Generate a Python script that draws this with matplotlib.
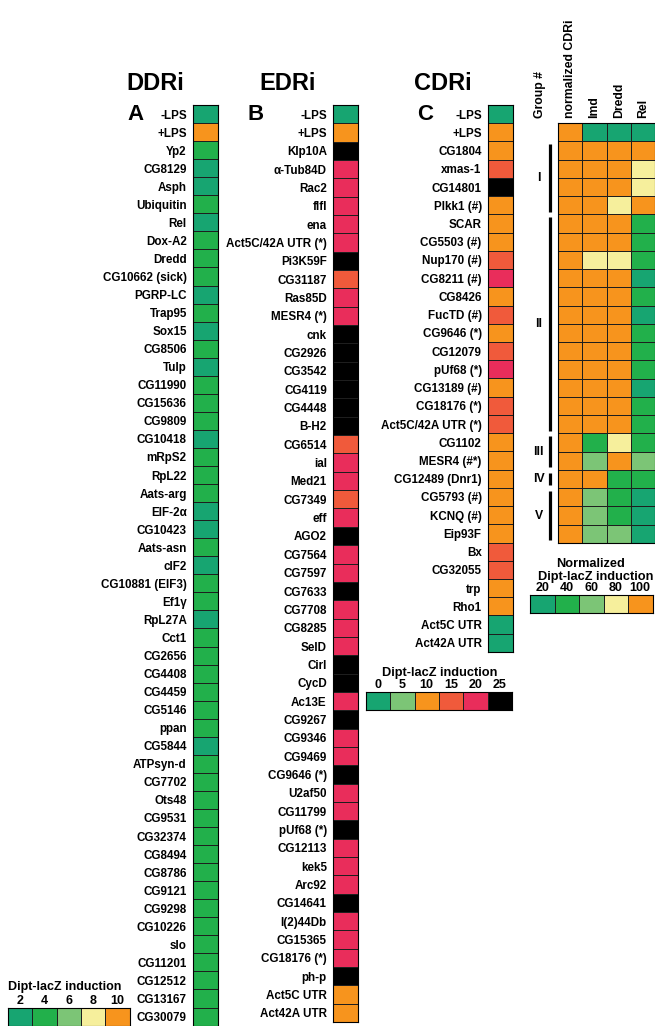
import numpy as np
import matplotlib
matplotlib.use('Agg')
import matplotlib.pyplot as plt
from matplotlib.colors import ListedColormap, BoundaryNorm

# colours shared by all scales
TEAL = '#17a571'
GREEN = '#22b04b'
LGREEN = '#7cc576'
YELLOW = '#f6ef9c'
ORANGE = '#f7941d'
RED = '#f05a3b'
CRIMSON = '#e92d5b'
BLACK = '#000000'

# ---- panel A: DDRi ----
ddri_genes = ['-LPS', '+LPS', 'Yp2', 'CG8129', 'Asph', 'Ubiquitin', 'Rel', 'Dox-A2', 'Dredd',
              'CG10662 (sick)', 'PGRP-LC', 'Trap95', 'Sox15', 'CG8506', 'Tulp', 'CG11990',
              'CG15636', 'CG9809', 'CG10418', 'mRpS2', 'RpL22', 'Aats-arg', 'EIF-2α', 'CG10423',
              'Aats-asn', 'cIF2', 'CG10881 (EIF3)', 'Ef1γ', 'RpL27A', 'Cct1', 'CG2656', 'CG4408',
              'CG4459', 'CG5146', 'ppan', 'CG5844', 'ATPsyn-d', 'CG7702', 'Ots48', 'CG9531',
              'CG32374', 'CG8494', 'CG8786', 'CG9121', 'CG9298', 'CG10226', 'slo', 'CG11201',
              'CG12512', 'CG13167', 'CG30079']
ddri_values = [2.0, 10.0, 3.4, 2.8, 2.7, 3.3, 2.6, 3.5, 3.4,
               3.3, 2.7, 3.5, 2.8, 3.4, 2.8, 3.4,
               3.6, 3.3, 2.8, 3.5, 3.4, 3.3, 2.7, 2.8,
               3.4, 2.7, 3.5, 3.3, 2.8, 3.5, 3.6, 3.4,
               3.5, 3.4, 3.6, 2.6, 3.4, 3.5, 3.6, 3.4,
               3.3, 3.5, 3.4, 3.6, 3.5, 3.4, 3.3, 3.5,
               3.4, 3.6, 3.5]
ddri_ticks = ['2', '4', '6', '8', '10']
ddri_bounds = [0, 3, 5, 7, 9, 100]
ddri_colors = [TEAL, GREEN, LGREEN, YELLOW, ORANGE]

# ---- panel B: EDRi ----
edri_genes = ['-LPS', '+LPS', 'Klp10A', 'α-Tub84D', 'Rac2', 'flfl', 'ena', 'Act5C/42A UTR (*)',
              'Pi3K59F', 'CG31187', 'Ras85D', 'MESR4 (*)', 'cnk', 'CG2926', 'CG3542', 'CG4119',
              'CG4448', 'B-H2', 'CG6514', 'ial', 'Med21', 'CG7349', 'eff', 'AGO2', 'CG7564',
              'CG7597', 'CG7633', 'CG7708', 'CG8285', 'SelD', 'Cirl', 'CycD', 'Ac13E', 'CG9267',
              'CG9346', 'CG9469', 'CG9646 (*)', 'U2af50', 'CG11799', 'pUf68 (*)', 'CG12113',
              'kek5', 'Arc92', 'CG14641', 'l(2)44Db', 'CG15365', 'CG18176 (*)', 'ph-p',
              'Act5C UTR', 'Act42A UTR']
edri_values = [1.5, 11, 28, 21, 20, 21, 20, 21,
               26, 16, 20, 21, 30, 29, 28, 27,
               27, 26, 16, 20, 21, 16, 20, 26, 21,
               20, 25, 21, 20, 21, 27, 26, 20, 26,
               21, 20, 25, 21, 20, 26, 20,
               21, 20, 25, 21, 20, 21, 26,
               11, 11]

# ---- panel C: CDRi ----
cdri_genes = ['-LPS', '+LPS', 'CG1804', 'xmas-1', 'CG14801', 'Plkk1 (#)', 'SCAR', 'CG5503 (#)',
              'Nup170 (#)', 'CG8211 (#)', 'CG8426', 'FucTD (#)', 'CG9646 (*)', 'CG12079',
              'pUf68 (*)', 'CG13189 (#)', 'CG18176 (*)', 'Act5C/42A UTR (*)', 'CG1102',
              'MESR4 (#*)', 'CG12489 (Dnr1)', 'CG5793 (#)', 'KCNQ (#)', 'Eip93F', 'Bx',
              'CG32055', 'trp', 'Rho1', 'Act5C UTR', 'Act42A UTR']
cdri_values = [1.5, 11, 10.5, 15, 26, 11, 10, 11,
               14, 19, 11, 14, 11, 14,
               19, 11, 14, 14, 11,
               10, 11, 10, 11, 11, 14,
               14, 11, 11, 1.5, 1.5]
ind_ticks = ['0', '5', '10', '15', '20', '25']
ind_bounds = [-100, 2.5, 7.5, 12.5, 17.5, 22.5, 1000]
ind_colors = [TEAL, LGREEN, ORANGE, RED, CRIMSON, BLACK]

# ---- normalized heat map (rows = +LPS .. Eip93F of panel C) ----
heat_columns = ['normalized CDRi', 'Imd', 'Dredd', 'Rel']
norm_cdri = [100] * 23
imd = [15, 100, 95, 96, 94, 98, 97, 78, 95, 96, 98, 96, 99, 97, 95, 96, 98,
       40, 58, 92, 55, 57, 60]
dredd = [18, 100, 97, 98, 82, 96, 95, 80, 93, 94, 97, 95, 97, 98, 96, 94, 95,
         76, 93, 38, 40, 37, 62]
rel = [20, 100, 78, 80, 95, 42, 38, 40, 25, 35, 27, 38, 36, 40, 28, 37, 39,
       42, 60, 36, 24, 22, 26]
groups = ['I', 'II', 'III', 'IV', 'V']
group_first = [1, 5, 17, 19, 20]
group_last = [4, 16, 18, 19, 22]
norm_ticks = ['20', '40', '60', '80', '100']
norm_bounds = [0, 30, 50, 70, 90, 1000]
norm_colors = [TEAL, GREEN, LGREEN, YELLOW, ORANGE]

plt.rcParams['font.family'] = ['Liberation Sans', 'DejaVu Sans']
plt.rcParams['font.weight'] = 'bold'

W, H = 655, 1026
fig = plt.figure(figsize=(W / 100, H / 100), dpi=100)


def px_ax(x0, y0, x1, y1):
    return fig.add_axes([x0 / W, 1 - y1 / H, (x1 - x0) / W, (y1 - y0) / H])


def column(x0, y0, row_h, genes, values, colors, bounds, width=24.5):
    n = len(genes)
    ax = px_ax(x0, y0, x0 + width, y0 + n * row_h)
    cmap = ListedColormap(colors)
    norm = BoundaryNorm(bounds, cmap.N)
    ax.pcolormesh(np.array(values, dtype=float).reshape(-1, 1), cmap=cmap, norm=norm,
                  edgecolors='#1e1e1e', linewidth=0.7)
    ax.set_xlim(0, 1)
    ax.set_ylim(n, 0)
    ax.set_xticks([])
    ax.set_yticks(np.arange(n) + 0.5)
    ax.set_yticklabels(genes, fontsize=8.4, fontweight='bold')
    ax.tick_params(axis='y', length=0, pad=4.5)
    for s in ax.spines.values():
        s.set_linewidth(0.8)
    return ax


def legend(x0, y0, ticks, colors, box_w=24.3, box_h=18):
    n = len(colors)
    ax = px_ax(x0, y0, x0 + n * box_w, y0 + box_h)
    ax.pcolormesh(np.arange(n).reshape(1, -1), cmap=ListedColormap(colors),
                  edgecolors='#1e1e1e', linewidth=0.7)
    ax.set_xlim(0, n)
    ax.set_ylim(0, 1)
    ax.set_yticks([])
    ax.xaxis.tick_top()
    ax.set_xticks(np.arange(n) + 0.5)
    ax.set_xticklabels(ticks, fontsize=9, fontweight='bold')
    ax.tick_params(axis='x', length=0, pad=1)
    return ax


# panels
column(193, 105, 18.05, ddri_genes, ddri_values, ddri_colors, ddri_bounds)
column(333, 105, 18.34, edri_genes, edri_values, ind_colors, ind_bounds)
column(488, 105, 18.23, cdri_genes, cdri_values, ind_colors, ind_bounds)

for x, title, letter, lx in [(155, 'DDRi', 'A', 135), (288, 'EDRi', 'B', 256), (443, 'CDRi', 'C', 425)]:
    fig.text(x / W, 1 - 83 / H, title, fontsize=17, fontweight='bold', ha='center', va='center')
    fig.text(lx / W, 1 - 115 / H, letter, fontsize=16, fontweight='bold', ha='center', va='center')

# heat map
heat = np.column_stack([norm_cdri, imd, dredd, rel])
nr = heat.shape[0]
hx0, hy0, row_h, col_w = 558, 123, 18.26, 24.3
hax = px_ax(hx0, hy0, hx0 + 4 * col_w, hy0 + nr * row_h)
hcmap = ListedColormap(norm_colors)
hax.pcolormesh(heat, cmap=hcmap, norm=BoundaryNorm(norm_bounds, hcmap.N),
               edgecolors='#1e1e1e', linewidth=0.7)
hax.set_xlim(0, 4)
hax.set_ylim(nr, 0)
hax.set_xticks([])
hax.set_yticks([])
for s in hax.spines.values():
    s.set_linewidth(0.8)
for i, name in enumerate(heat_columns):
    hax.text(i + 0.5, -0.3, name, rotation=90, ha='center', va='bottom',
             fontsize=8.8, fontweight='bold')
hax.text(-0.75, -0.3, 'Group #', rotation=90, ha='center', va='bottom',
         fontsize=8.8, fontweight='bold')
for g, a, b in zip(groups, group_first, group_last):
    hax.plot([-0.33, -0.33], [a + 0.15, b + 0.85], color='black', lw=2.3,
             clip_on=False, solid_capstyle='butt')
    hax.text(-0.8, (a + b + 1) / 2, g, ha='center', va='center', fontsize=8.8,
             fontweight='bold')

# legends
legend(8, 1008, ddri_ticks, ddri_colors)
fig.text(65 / W, 1 - 987 / H, 'Dipt-lacZ induction', fontsize=9, fontweight='bold',
         ha='center', va='center')
legend(366, 692, ind_ticks, ind_colors)
fig.text(440 / W, 1 - 673 / H, 'Dipt-lacZ induction', fontsize=9.2, fontweight='bold',
         ha='center', va='center')
legend(530, 595, norm_ticks, norm_colors, box_w=24.5)
fig.text(591 / W, 1 - 564 / H, 'Normalized', fontsize=9.2, fontweight='bold',
         ha='center', va='center')
fig.text(538 / W, 1 - 577 / H, 'Dipt-lacZ induction', fontsize=9.2, fontweight='bold',
         ha='left', va='center')

fig.savefig('out.png', dpi=100)
